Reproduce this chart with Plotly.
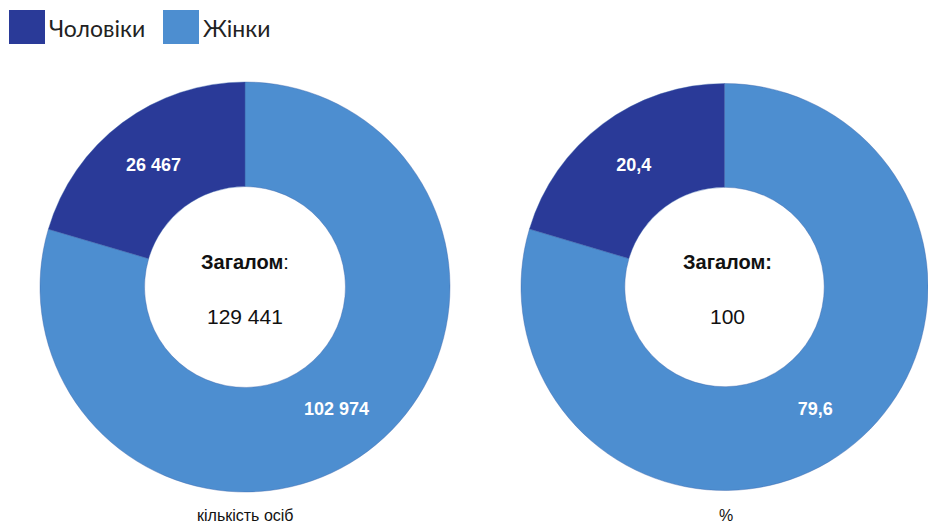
import plotly.graph_objects as go

W, H = 928, 525

categories = ["Чоловіки", "Жінки"]
counts = [26467, 102974]
percents = [20.4, 79.6]
bottom_labels = ["кількість осіб", "%"]
colors = ["#2A3A98", "#4D8ED0"]

def fmt_int(v):
    return f"{v:,}".replace(",", " ")

def fmt_pct(v):
    return f"{v:.1f}".replace(".", ",")

total_count = sum(counts)
total_pct = round(sum(percents))

fig = go.Figure()

def px_x(x):
    return x / W

def px_y(y):
    return 1 - y / H

# slices drawn clockwise from 12 o'clock: women first, then men
order = [1, 0]

pie_common = dict(
    labels=[categories[i] for i in order],
    sort=False,
    direction="clockwise",
    rotation=0,
    hole=0.49,
    marker=dict(colors=[colors[i] for i in order],
                line=dict(color="rgba(60,100,170,0.5)", width=0.8)),
    textinfo="text",
    textposition="inside",
    insidetextorientation="horizontal",
    insidetextfont=dict(family="Liberation Sans, Arial", size=18, color="white"),
    showlegend=False,
    hoverinfo="label+value",
)

fig.add_trace(go.Pie(
    values=[counts[i] for i in order],
    text=[f"<b>{fmt_int(counts[i])}</b>" for i in order],
    domain=dict(x=[px_x(40), px_x(450)], y=[px_y(492), px_y(82)]),
    **pie_common,
))
fig.add_trace(go.Pie(
    values=[percents[i] for i in order],
    text=[f"<b>{fmt_pct(percents[i])}</b>" for i in order],
    domain=dict(x=[px_x(521), 1.0], y=[px_y(492), px_y(82)]),
    **pie_common,
))

annotations = []
txtfont = "Liberation Sans, Arial"
# center texts
for cx, head, val in [(245, "<b>Загалом</b>:", fmt_int(total_count)),
                      (727, "<b>Загалом:</b>", str(total_pct))]:
    annotations.append(dict(x=px_x(cx), y=px_y(262), xref="paper", yref="paper",
                            text=head, showarrow=False, xanchor="center", yanchor="middle",
                            font=dict(family=txtfont, size=20, color="#111111")))
    annotations.append(dict(x=px_x(cx), y=px_y(316), xref="paper", yref="paper",
                            text=val, showarrow=False, xanchor="center", yanchor="middle",
                            font=dict(family=txtfont, size=21, color="#111111")))
# bottom labels
for cx, lab in zip([245, 726], bottom_labels):
    annotations.append(dict(x=px_x(cx), y=px_y(515), xref="paper", yref="paper",
                            text=lab, showarrow=False, xanchor="center", yanchor="middle",
                            font=dict(family=txtfont, size=16, color="#111111")))

# legend (manual)
shapes = []
leg_x = [9, 163]
for lx, cat, col in zip(leg_x, categories, colors):
    shapes.append(dict(type="rect", xref="paper", yref="paper",
                       x0=px_x(lx), x1=px_x(lx + 36), y0=px_y(44), y1=px_y(10),
                       fillcolor=col, line=dict(width=0)))
    annotations.append(dict(x=px_x(lx + 38), y=px_y(28), xref="paper", yref="paper",
                            text=cat, showarrow=False, xanchor="left", yanchor="middle",
                            font=dict(family="Lato, Open Sans", size=23, color="#222222")))

fig.update_layout(
    width=W, height=H,
    margin=dict(l=0, r=0, t=0, b=0),
    paper_bgcolor="white",
    plot_bgcolor="white",
    annotations=annotations,
    shapes=shapes,
)

fig.write_html("out.html")
